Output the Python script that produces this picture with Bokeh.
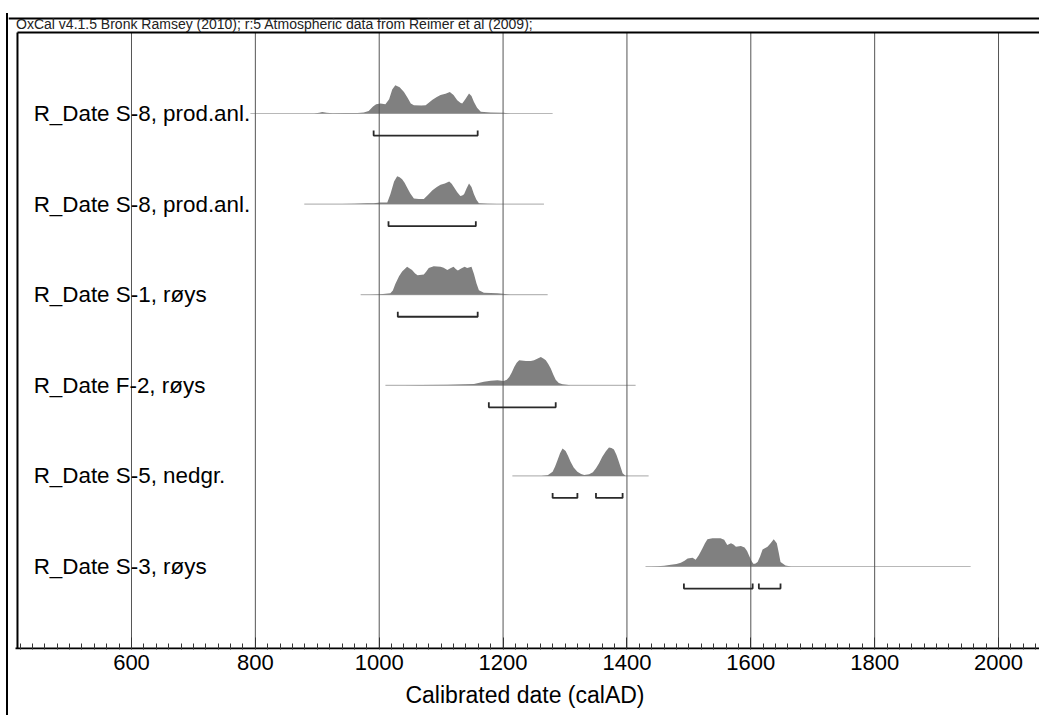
from bokeh.plotting import figure
from bokeh.models import FixedTicker, LinearAxis, Range1d
from bokeh.core.properties import value
from bokeh.embed import file_html
from bokeh.resources import INLINE

# ---------------- data ----------------
header = "OxCal v4.1.5 Bronk Ramsey (2010); r:5 Atmospheric data from Reimer et al (2009);"
x_title = "Calibrated date (calAD)"

row_labels = ["R_Date S-8, prod.anl.", "R_Date S-8, prod.anl.", "R_Date S-1, røys",
              "R_Date F-2, røys", "R_Date S-5, nedgr.", "R_Date S-3, røys"]
row_pos = [5, 4, 3, 2, 1, 0]

major_years = [400, 600, 800, 1000, 1200, 1400, 1600, 1800, 2000, 2200]
minor_years = [420, 440, 460, 480, 500, 520, 540, 560, 580, 620, 640, 660, 680, 700, 720, 740, 760, 780,
               820, 840, 860, 880, 900, 920, 940, 960, 980, 1020, 1040, 1060, 1080, 1100, 1120, 1140, 1160, 1180,
               1220, 1240, 1260, 1280, 1300, 1320, 1340, 1360, 1380, 1420, 1440, 1460, 1480, 1500, 1520, 1540,
               1560, 1580, 1620, 1640, 1660, 1680, 1700, 1720, 1740, 1760, 1780, 1820, 1840, 1860, 1880, 1900,
               1920, 1940, 1960, 1980, 2020, 2040, 2060]

# extent of the thin line under each distribution
line_start = [792, 879, 970, 1010, 1215, 1430]
line_end = [1280, 1266, 1272, 1414, 1435, 1955]

# relative probability distributions (year, relative height)
s8a_year = [895, 903, 908, 915, 925, 945, 965, 975, 983, 990, 995, 1002, 1010, 1016, 1021, 1026, 1033, 1040,
            1046, 1051, 1056, 1068, 1075, 1080, 1086, 1093, 1099, 1107, 1114, 1120, 1126, 1131, 1134, 1139,
            1145, 1149, 1153, 1158, 1164, 1180, 1201, 1212]
s8a_prob = [0, 0.03, 0.05, 0.03, 0.01, 0.02, 0.02, 0.04, 0.09, 0.25, 0.33, 0.35, 0.33, 0.5, 0.85, 1.0, 0.93, 0.76,
            0.55, 0.35, 0.29, 0.28, 0.29, 0.38, 0.49, 0.58, 0.65, 0.7, 0.76, 0.65, 0.47, 0.38, 0.35, 0.5,
            0.71, 0.62, 0.41, 0.2, 0.06, 0.04, 0.03, 0]

s8b_year = [940, 960, 980, 991, 1002, 1013, 1018, 1024, 1029, 1033, 1037, 1041, 1045, 1050, 1056, 1064, 1072,
            1079, 1086, 1093, 1099, 1106, 1113, 1117, 1121, 1126, 1131, 1134, 1137, 1141, 1145, 1149, 1153,
            1157, 1161, 1175, 1190]
s8b_prob = [0, 0.01, 0.03, 0.035, 0.06, 0.06, 0.35, 0.8, 0.98, 0.95, 0.88, 0.75, 0.59, 0.38, 0.2, 0.18, 0.18,
            0.33, 0.49, 0.6, 0.68, 0.73, 0.8, 0.72, 0.59, 0.42, 0.29, 0.3, 0.35, 0.55, 0.73, 0.6, 0.35,
            0.15, 0.035, 0.01, 0]

s1_year = [985, 1002, 1018, 1022, 1026, 1032, 1037, 1045, 1053, 1058, 1062, 1072, 1076, 1080, 1088, 1099, 1104,
           1110, 1115, 1120, 1124, 1127, 1133, 1138, 1142, 1149, 1153, 1157, 1161, 1169, 1180, 1191, 1200, 1212]
s1_prob = [0, 0.02, 0.05, 0.15, 0.38, 0.65, 0.82, 0.99, 0.87, 0.75, 0.69, 0.71, 0.82, 0.94, 1.0, 0.99, 0.95,
           0.87, 0.93, 0.99, 0.9, 0.85, 0.93, 0.99, 0.94, 0.99, 0.73, 0.4, 0.16, 0.07, 0.06, 0.05, 0.03, 0]

f2_year = [1040, 1067, 1110, 1153, 1169, 1180, 1191, 1201, 1206, 1210, 1214, 1218, 1222, 1226, 1237, 1245, 1250,
           1256, 1261, 1265, 1269, 1273, 1277, 1281, 1285, 1290, 1296, 1309]
f2_prob = [0, 0.01, 0.02, 0.05, 0.13, 0.16, 0.18, 0.15, 0.2, 0.29, 0.45, 0.65, 0.8, 0.88, 0.86, 0.86, 0.88,
           0.95, 1.0, 0.95, 0.88, 0.75, 0.59, 0.38, 0.2, 0.08, 0.035, 0]

s5_year = [1262, 1272, 1280, 1284, 1288, 1292, 1296, 1301, 1305, 1309, 1314, 1320, 1326, 1331, 1339, 1345, 1350,
           1355, 1360, 1366, 1371, 1375, 1379, 1383, 1386, 1390, 1393, 1398]
s5_prob = [0, 0.02, 0.15, 0.33, 0.56, 0.8, 0.97, 0.88, 0.7, 0.5, 0.3, 0.15, 0.07, 0.035, 0.06, 0.13, 0.27,
           0.45, 0.67, 0.87, 1.0, 0.98, 0.93, 0.75, 0.56, 0.3, 0.09, 0]

s3_year = [1440, 1449, 1460, 1471, 1480, 1487, 1493, 1498, 1506, 1511, 1516, 1522, 1526, 1530, 1538, 1551, 1557,
           1562, 1568, 1572, 1576, 1584, 1590, 1594, 1597, 1601, 1604, 1607, 1611, 1615, 1619, 1627, 1632,
           1637, 1642, 1645, 1648, 1656, 1665]
s3_prob = [0, 0.01, 0.03, 0.06, 0.09, 0.13, 0.2, 0.28, 0.31, 0.24, 0.4, 0.64, 0.82, 0.96, 1.0, 1.0, 0.94,
           0.76, 0.82, 0.78, 0.7, 0.72, 0.67, 0.55, 0.4, 0.2, 0.1, 0.1, 0.16, 0.35, 0.6, 0.7, 0.82,
           0.96, 0.82, 0.5, 0.16, 0.04, 0]

dist_years = [s8a_year, s8b_year, s1_year, f2_year, s5_year, s3_year]
dist_probs = [s8a_prob, s8b_prob, s1_prob, f2_prob, s5_prob, s3_prob]

# 95.4% ranges (start, end) per row
ranges_s8a = [(991, 1159)]
ranges_s8b = [(1015, 1156)]
ranges_s1 = [(1030, 1159)]
ranges_f2 = [(1177, 1285)]
ranges_s5 = [(1280, 1320), (1350, 1393)]
ranges_s3 = [(1492, 1603), (1613, 1648)]
row_ranges = [ranges_s8a, ranges_s8b, ranges_s1, ranges_f2, ranges_s5, ranges_s3]

# ---------------- layout / style ----------------
X_LO, X_HI = 401.4, 2069.4     # frame extent in years
X_AX = 412.7                   # left end of the axis line
X_BOX = 415.9                  # left edge of the drawn plot box
Y_LO, Y_HI = -0.916, 6.104     # frame extent in row units
Y_AX = -0.905                  # axis line
Y_BOX = 5.894                  # top edge of the drawn plot box
Y_HDR = 5.985                  # header baseline
Y_OUT = 6.049                  # outer box top line
PEAK = 0.313
BR_OFF = 0.243
BR_TICK = 0.055
LABEL_X = 442
HDR_X = 413.6
FONT = "Liberation Sans"

p = figure(width=1033, height=702, title=None,
           x_range=Range1d(X_LO, X_HI), y_range=Range1d(Y_LO, Y_HI),
           output_backend="svg", toolbar_location=None,
           x_axis_location=None, y_axis_location=None,
           min_border_left=0, min_border_right=0, min_border_top=0, min_border_bottom=66)
p.grid.visible = False
p.outline_line_color = None
p.background_fill_color = "white"
p.border_fill_color = "white"
p.styles = {"border-left": "2px solid black", "margin-left": "6px", "margin-top": "13px"}

ticker = FixedTicker(ticks=major_years, minor_ticks=minor_years)
xaxis = LinearAxis(ticker=ticker)
xaxis.axis_line_color = None
xaxis.major_tick_in = 12
xaxis.major_tick_out = 0
xaxis.minor_tick_in = 6
xaxis.minor_tick_out = 0
xaxis.major_tick_line_color = "#333333"
xaxis.minor_tick_line_color = "#333333"
xaxis.major_label_text_font = FONT
xaxis.major_label_text_font_size = "22px"
xaxis.major_label_text_color = "black"
xaxis.major_label_standoff = 5
xaxis.axis_label = x_title
xaxis.axis_label_text_font = FONT
xaxis.axis_label_text_font_size = "23px"
xaxis.axis_label_text_font_style = "normal"
xaxis.axis_label_text_color = "black"
xaxis.axis_label_standoff = 9
p.add_layout(xaxis, "below")

# thin lines
p.segment(x0=line_start, y0=row_pos, x1=line_end, y1=row_pos, line_color="#b8b8b8", line_width=1.2)

# distributions
for yrs, prb, base in zip(dist_years, dist_probs, row_pos):
    p.varea(x=yrs, y1=[base] * len(yrs), y2=[base + v * PEAK for v in prb],
            fill_color="#808080")

# vertical grid lines at the major ticks, up to the plot box
grid_years = [t for t in major_years if X_BOX < t < X_HI]
p.segment(x0=grid_years, y0=[Y_AX] * len(grid_years), x1=grid_years, y1=[Y_BOX] * len(grid_years),
          line_color="#555555", line_width=1)

# plot box (left, top), axis line and the outer box top line
p.segment(x0=[X_BOX, X_BOX, X_AX, X_LO], y0=[Y_AX, Y_BOX, Y_AX, Y_OUT],
          x1=[X_BOX, X_HI, X_HI, X_HI], y1=[Y_BOX, Y_BOX, Y_AX, Y_OUT],
          line_color="black", line_width=2)

# brackets
bx, by = [], []
for rngs, base in zip(row_ranges, row_pos):
    yb = base - BR_OFF
    for a, b in rngs:
        bx.append([a, a, b, b])
        by.append([yb + BR_TICK, yb, yb, yb + BR_TICK])
p.multi_line(xs=bx, ys=by, line_color="#2a2a2a", line_width=1.8)

# labels
p.text(x=[LABEL_X] * len(row_labels), y=row_pos, text=row_labels,
       text_font=value(FONT), text_font_size="22.4px", text_baseline="middle",
       text_color="black")

# header
p.text(x=[HDR_X], y=[Y_HDR], text=[header], text_font=value(FONT), text_font_size="14px",
       text_baseline="alphabetic", text_color="#222222")

open("out.html", "w").write(file_html(p, INLINE))
